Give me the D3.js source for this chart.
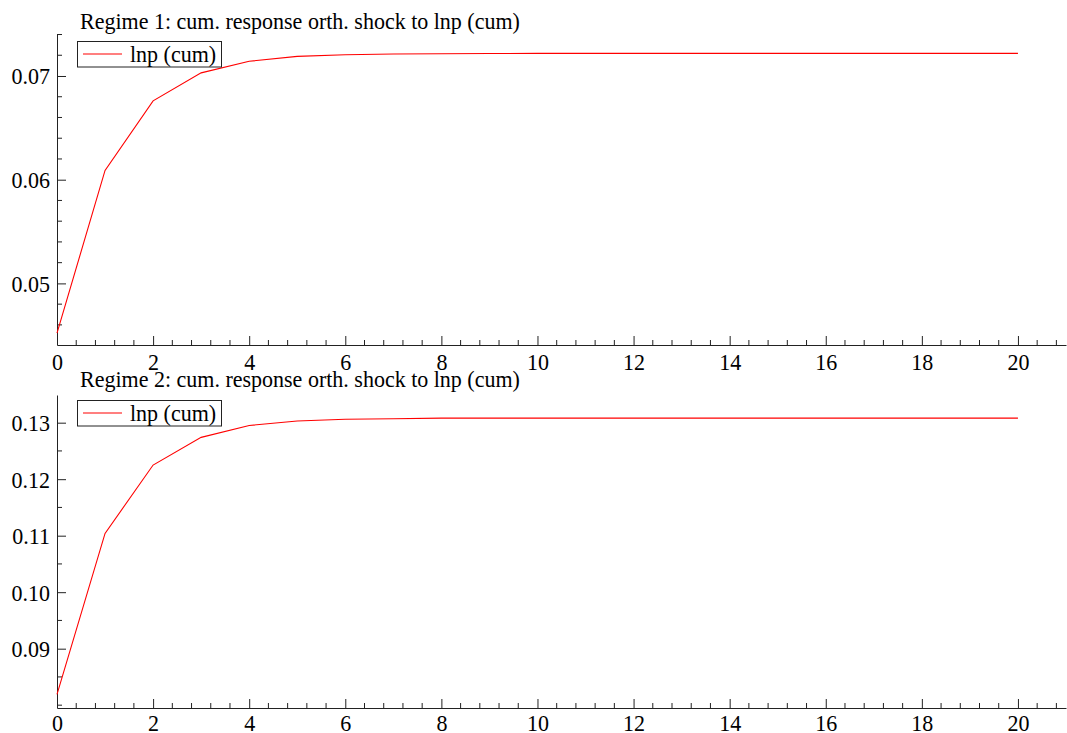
<!DOCTYPE html>
<html>
<head>
<meta charset="utf-8">
<script src="https://cdn.jsdelivr.net/npm/d3@7"></script>
<style>
  html, body { margin: 0; padding: 0; background: #fff; }
  svg text { font-family: "Liberation Serif", "Times New Roman", serif; fill: #000; }
</style>
</head>
<body>
<svg id="chart" width="1067" height="733"></svg>
<script>
// Horizon (periods after the shock)
const horizon = d3.range(0, 21);

// Cumulated responses of lnp to an orthogonalised lnp shock, per regime
const regime1Values = [0.0452, 0.0609, 0.0676, 0.07030, 0.07142, 0.07189, 0.07205, 0.07212,
  0.07215, 0.07217, 0.07218, 0.07218, 0.07218, 0.07218, 0.07218, 0.07218, 0.07218, 0.07218,
  0.07218, 0.07218, 0.07218];
const regime2Values = [0.0819, 0.1104, 0.1225, 0.1274, 0.1295, 0.1303, 0.1306, 0.1307,
  0.1308, 0.1308, 0.1308, 0.1308, 0.1308, 0.1308, 0.1308, 0.1308, 0.1308, 0.1308,
  0.1308, 0.1308, 0.1308];

const panelTitles = [
  "Regime 1: cum. response orth. shock to lnp (cum)",
  "Regime 2: cum. response orth. shock to lnp (cum)"
];
const legendLabel = "lnp (cum)";

// Axis tick settings
const xMajorTicks = [0, 2, 4, 6, 8, 10, 12, 14, 16, 18, 20];
const regime1MajorTicks = [0.05, 0.06, 0.07];
const regime2MajorTicks = [0.09, 0.10, 0.11, 0.12, 0.13];

const panels = [
  { title: panelTitles[0], values: regime1Values, yDomain: [0.04406, 0.07405],
    yMajor: regime1MajorTicks, yMinorStep: 0.002, yFmt: d3.format(".2f"),
    top: 34, bottom: 345, titleY: 29, legendTop: 41, xLabelY: 25 },
  { title: panelTitles[1], values: regime2Values, yDomain: [0.0795, 0.1349],
    yMajor: regime2MajorTicks, yMinorStep: 0.005, yFmt: d3.format(".2f"),
    top: 395, bottom: 708, titleY: 387, legendTop: 400, xLabelY: 23.5 }
];

const svg = d3.select("#chart");
const left = 57, right = 1066;
const axisColor = "#222";
// glyphs are drawn tall and slightly narrow
const fontSize = 24;
const textScaleX = 0.917;

panels.forEach(p => {
  const x = d3.scaleLinear().domain([0, 21]).range([left, right]);
  const y = d3.scaleLinear().domain(p.yDomain).range([p.bottom, p.top]);
  const g = svg.append("g");

  // minor ticks
  const xMinor = d3.range(0, 21.001, 0.4).filter(v => Math.abs(v / 2 - Math.round(v / 2)) > 1e-6);
  const yMinor = d3.range(Math.ceil(p.yDomain[0] / p.yMinorStep) * p.yMinorStep, p.yDomain[1], p.yMinorStep)
    .filter(v => !p.yMajor.some(m => Math.abs(m - v) < 1e-9));

  // x axis
  const xAxis = d3.axisBottom(x).tickValues(xMajorTicks).tickSizeInner(-9).tickSizeOuter(0)
    .tickFormat(d3.format("d"));
  const gx = g.append("g").attr("transform", `translate(0,${p.bottom})`).call(xAxis);
  gx.append("g").selectAll("line").data(xMinor).join("line")
    .attr("x1", d => x(d)).attr("x2", d => x(d)).attr("y1", 0).attr("y2", -5)
    .attr("stroke", axisColor);

  // y axis
  const yAxis = d3.axisLeft(y).tickValues(p.yMajor).tickSizeInner(-9).tickSizeOuter(0)
    .tickFormat(p.yFmt).tickPadding(7);
  const gy = g.append("g").attr("transform", `translate(${left},0)`).call(yAxis);
  gy.append("g").selectAll("line").data(yMinor).join("line")
    .attr("y1", d => y(d)).attr("y2", d => y(d)).attr("x1", 0).attr("x2", 5)
    .attr("stroke", axisColor);

  [gx, gy].forEach(a => {
    a.select(".domain").attr("stroke", axisColor);
    a.selectAll(".tick line").attr("stroke", axisColor);
    a.selectAll("text").style("font-size", fontSize + "px")
      .style("font-family", '"Liberation Serif", serif').attr("fill", "#000");
  });
  gx.selectAll(".tick text").attr("dy", null).attr("y", p.xLabelY)
    .attr("x", 0).attr("transform", `scale(${textScaleX},1)`);
  gy.selectAll(".tick text").attr("dy", "0.33em").each(function () {
    const t = d3.select(this);
    const tx = +t.attr("x");
    t.attr("x", tx / textScaleX).attr("transform", `scale(${textScaleX},1)`);
  });

  // response line
  const line = d3.line().x((d, i) => x(horizon[i])).y(d => y(d));
  g.append("path").datum(p.values).attr("d", line)
    .attr("fill", "none").attr("stroke", "#ff0000").attr("stroke-width", 1.1);

  // title
  g.append("text").attr("transform", `translate(80,${p.titleY}) scale(${textScaleX},1)`)
    .style("font-size", fontSize + "px").text(p.title);

  // legend
  const lg = g.append("g").attr("transform", `translate(77,${p.legendTop})`);
  lg.append("rect").attr("x", 0.5).attr("y", 0.5).attr("width", 144).attr("height", 25.5)
    .attr("fill", "#fff").attr("stroke", axisColor);
  lg.append("line").attr("x1", 6).attr("x2", 45).attr("y1", 13).attr("y2", 13)
    .attr("stroke", "#ff0000").attr("stroke-width", 1.1);
  lg.append("text").attr("transform", `translate(53,21) scale(${textScaleX},1)`)
    .style("font-size", fontSize + "px").text(legendLabel);
});
</script>
</body>
</html>
